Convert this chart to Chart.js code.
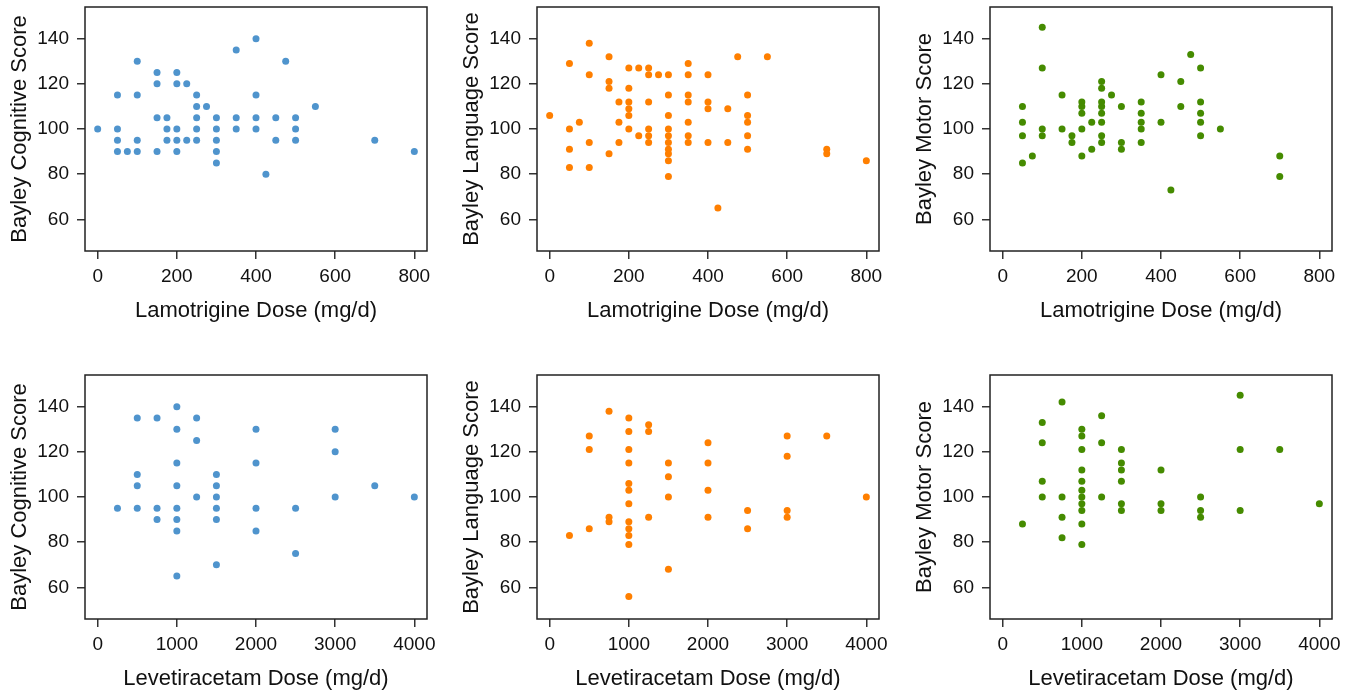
<!DOCTYPE html>
<html>
<head>
<meta charset="utf-8">
<script src="https://cdn.jsdelivr.net/npm/chart.js@4.4.0/dist/chart.umd.min.js"></script>
<style>
  html, body { margin: 0; padding: 0; background: #fff; }
  #wrap { position: relative; width: 1352px; height: 696px; overflow: hidden; }
  #wrap canvas { position: absolute; }
</style>
</head>
<body>
<div id="wrap">
  <canvas id="c1"></canvas>
  <canvas id="c2"></canvas>
  <canvas id="c3"></canvas>
  <canvas id="c4"></canvas>
  <canvas id="c5"></canvas>
  <canvas id="c6"></canvas>
</div>
<script>
// tick labels
const lamTicks = [0, 200, 400, 600, 800];
const levTicks = [0, 1000, 2000, 3000, 4000];
const scoreTicks = [60, 80, 100, 120, 140];

// Lamotrigine - cognitive
const lamCogDose = [0, 50, 50, 50, 50, 75, 100, 100, 100, 100, 150, 150, 150, 150, 175, 175, 175,
  200, 200, 200, 200, 200, 225, 225, 250, 250, 250, 250, 250, 275, 300, 300, 300, 300, 300,
  350, 350, 350, 400, 400, 400, 400, 425, 450, 450, 475, 500, 500, 500, 550, 700, 800];
const lamCogScore = [100, 115, 100, 95, 90, 90, 130, 115, 95, 90, 125, 120, 105, 90, 105, 100, 95,
  125, 120, 100, 95, 90, 120, 95, 115, 110, 105, 100, 95, 110, 105, 100, 95, 90, 85,
  135, 105, 100, 140, 115, 105, 100, 80, 105, 95, 130, 105, 100, 95, 110, 95, 90];

// Lamotrigine - language
const lamLangDose = [0, 50, 50, 50, 50, 75, 100, 100, 100, 100, 150, 150, 150, 150, 175, 175, 175,
  200, 200, 200, 200, 200, 200, 225, 225, 250, 250, 250, 250, 250, 250, 275,
  300, 300, 300, 300, 300, 300, 300, 300, 300, 300, 350, 350, 350, 350, 350, 350, 350,
  400, 400, 400, 400, 425, 450, 450, 475, 500, 500, 500, 500, 500, 550, 700, 700, 800];
const lamLangScore = [106, 129, 100, 91, 83, 103, 138, 124, 94, 83, 132, 121, 118, 89, 112, 103, 94,
  127, 118, 112, 109, 106, 100, 127, 97, 127, 124, 112, 100, 97, 94, 124,
  124, 115, 106, 100, 97, 94, 91, 89, 86, 79, 129, 124, 115, 112, 103, 97, 94,
  124, 112, 109, 94, 65, 109, 94, 132, 115, 106, 103, 97, 91, 132, 91, 89, 86];

// Lamotrigine - motor
const lamMotDose = [50, 50, 50, 50, 75, 100, 100, 100, 100, 150, 150, 175, 175,
  200, 200, 200, 200, 200, 225, 225, 250, 250, 250, 250, 250, 250, 250, 250, 275,
  300, 300, 300, 350, 350, 350, 350, 350, 400, 400, 425, 450, 450, 475,
  500, 500, 500, 500, 500, 550, 700, 700];
const lamMotScore = [110, 103, 97, 85, 88, 145, 127, 100, 97, 115, 100, 97, 94,
  112, 110, 107, 100, 88, 103, 91, 121, 118, 112, 110, 107, 103, 97, 94, 115,
  110, 94, 91, 112, 107, 103, 100, 94, 124, 103, 73, 121, 110, 133,
  127, 112, 107, 103, 97, 100, 88, 79];

// Levetiracetam - cognitive
const levCogDose = [250, 500, 500, 500, 500, 750, 750, 750,
  1000, 1000, 1000, 1000, 1000, 1000, 1000, 1000, 1250, 1250, 1250,
  1500, 1500, 1500, 1500, 1500, 1500, 2000, 2000, 2000, 2000, 2500, 2500,
  3000, 3000, 3000, 3500, 4000];
const levCogScore = [95, 135, 110, 105, 95, 135, 95, 90,
  140, 130, 115, 105, 95, 90, 85, 65, 135, 125, 100,
  110, 105, 100, 95, 90, 70, 130, 115, 95, 85, 95, 75,
  130, 120, 100, 105, 100];

// Levetiracetam - language
const levLangDose = [250, 500, 500, 500, 750, 750, 750,
  1000, 1000, 1000, 1000, 1000, 1000, 1000, 1000, 1000, 1000, 1000, 1000,
  1250, 1250, 1250, 1500, 1500, 1500, 1500, 2000, 2000, 2000, 2000, 2500, 2500,
  3000, 3000, 3000, 3000, 3500, 4000];
const levLangScore = [83, 127, 121, 86, 138, 91, 89,
  135, 129, 121, 115, 106, 103, 97, 89, 86, 83, 79, 56,
  132, 129, 91, 115, 109, 100, 68, 124, 115, 103, 91, 94, 86,
  127, 118, 94, 91, 127, 100];

// Levetiracetam - motor
const levMotDose = [250, 500, 500, 500, 500, 750, 750, 750, 750,
  1000, 1000, 1000, 1000, 1000, 1000, 1000, 1000, 1000, 1000, 1000,
  1250, 1250, 1250, 1500, 1500, 1500, 1500, 1500, 1500, 2000, 2000, 2000,
  2500, 2500, 2500, 3000, 3000, 3000, 3500, 4000];
const levMotScore = [88, 133, 124, 107, 100, 142, 100, 91, 82,
  130, 127, 121, 112, 107, 103, 100, 97, 94, 88, 79,
  136, 124, 100, 121, 115, 112, 107, 97, 94, 112, 97, 94,
  100, 94, 91, 145, 121, 94, 121, 97];

const BLUE = '#4F94CD', ORANGE = '#FF7F00', GREEN = '#458B00';
const FONT = 'Liberation Sans, Arial, Helvetica, sans-serif';

const panels = [
  { id: 'c1', left: 0, top: 0, dose: lamCogDose, score: lamCogScore, color: BLUE, xTitle: 'Lamotrigine Dose (mg/d)', yTitle: 'Bayley Cognitive Score', xMin: -32, xMax: 832, xTicks: lamTicks },
  { id: 'c2', left: 452, top: 0, dose: lamLangDose, score: lamLangScore, color: ORANGE, xTitle: 'Lamotrigine Dose (mg/d)', yTitle: 'Bayley Language Score', xMin: -32, xMax: 832, xTicks: lamTicks },
  { id: 'c3', left: 905, top: 0, dose: lamMotDose, score: lamMotScore, color: GREEN, xTitle: 'Lamotrigine Dose (mg/d)', yTitle: 'Bayley Motor Score', xMin: -32, xMax: 832, xTicks: lamTicks },
  { id: 'c4', left: 0, top: 368, dose: levCogDose, score: levCogScore, color: BLUE, xTitle: 'Levetiracetam Dose (mg/d)', yTitle: 'Bayley Cognitive Score', xMin: -160, xMax: 4160, xTicks: levTicks },
  { id: 'c5', left: 452, top: 368, dose: levLangDose, score: levLangScore, color: ORANGE, xTitle: 'Levetiracetam Dose (mg/d)', yTitle: 'Bayley Language Score', xMin: -160, xMax: 4160, xTicks: levTicks },
  { id: 'c6', left: 905, top: 368, dose: levMotDose, score: levMotScore, color: GREEN, xTitle: 'Levetiracetam Dose (mg/d)', yTitle: 'Bayley Motor Score', xMin: -160, xMax: 4160, xTicks: levTicks }
];

// box round the plot area, like R's box()
const boxPlugin = {
  id: 'box',
  afterDraw(chart) {
    const { ctx, chartArea: a } = chart;
    ctx.save();
    ctx.strokeStyle = '#222';
    ctx.lineWidth = 1.5;
    ctx.strokeRect(a.left, a.top, a.right - a.left, a.bottom - a.top);
    ctx.restore();
  }
};

const makeChart = (p) => {
  const canvas = document.getElementById(p.id);
  canvas.width = 443;
  canvas.height = 328;
  canvas.style.left = p.left + 'px';
  canvas.style.top = p.top + 'px';

  const tickGrid = { drawOnChartArea: false, drawTicks: true, tickLength: 8, tickColor: '#333', tickWidth: 1.5, lineWidth: 1.5 };

  new Chart(canvas.getContext('2d'), {
    type: 'scatter',
    data: {
      datasets: [{
        data: p.dose.map((d, i) => ({ x: d, y: p.score[i] })),
        backgroundColor: p.color,
        borderWidth: 0,
        pointRadius: 3.5
      }]
    },
    options: {
      responsive: false,
      animation: false,
      events: [],
      layout: { padding: { top: 7, right: 16, left: 0, bottom: 0 } },
      plugins: { legend: { display: false }, tooltip: { enabled: false } },
      scales: {
        x: {
          type: 'linear',
          min: p.xMin,
          max: p.xMax,
          afterBuildTicks: s => { s.ticks = p.xTicks.map(v => ({ value: v })); },
          afterFit: s => { s.height = 77; s.paddingLeft = 0; s.paddingRight = 0; },
          grid: tickGrid,
          border: { display: false },
          ticks: { color: '#111', font: { family: FONT, size: 19 }, padding: 6, maxRotation: 0, autoSkip: false, callback: v => String(v) },
          title: { display: true, text: p.xTitle, color: '#111', font: { family: FONT, size: 22 }, padding: { top: 0, bottom: 4 } }
        },
        y: {
          type: 'linear',
          min: 46,
          max: 154,
          afterBuildTicks: s => { s.ticks = scoreTicks.map(v => ({ value: v })); },
          afterFit: s => { s.width = 85; s.paddingTop = 0; s.paddingBottom = 0; },
          grid: tickGrid,
          border: { display: false },
          ticks: { color: '#111', font: { family: FONT, size: 19 }, padding: 8, autoSkip: false, callback: v => String(v) },
          title: { display: true, text: p.yTitle, color: '#111', font: { family: FONT, size: 22 }, padding: { top: 7, bottom: 0 } }
        }
      }
    },
    plugins: [boxPlugin]
  });
};

panels.forEach(makeChart);
</script>
</body>
</html>
